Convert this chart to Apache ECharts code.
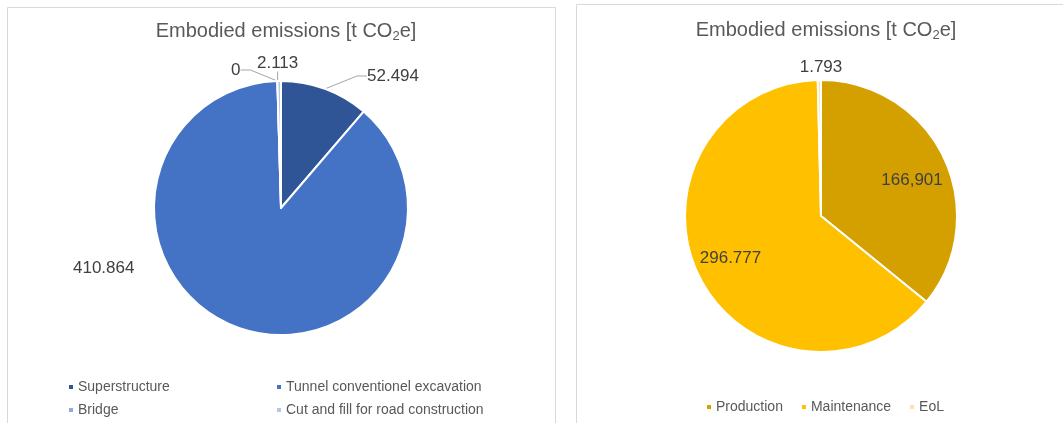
<!DOCTYPE html>
<html>
<head>
<meta charset="utf-8">
<script src="https://cdn.jsdelivr.net/npm/echarts@6/dist/echarts.min.js"></script>
<style>
  html, body { margin: 0; padding: 0; background: #fff; }
  #chart { width: 1063px; height: 423px; }
</style>
</head>
<body>
<div id="chart"></div>
<script>
  // left pie: elements
  const elementNames = ['Superstructure', 'Tunnel conventionel excavation', 'Bridge', 'Cut and fill for road construction'];
  const elementValues = [52.494, 410.864, 0, 2.113];
  const elementLabels = ['52.494', '410.864', '0', '2.113'];
  const elementColors = ['#2f5597', '#4472c4', '#8faadc', '#b4c7e7'];

  // right pie: life-cycle stages
  const stageNames = ['Production', 'Maintenance', 'EoL'];
  const stageValues = [166.901, 296.777, 1.793];
  const stageLabels = ['166,901', '296.777', '1.793'];
  const stageColors = ['#d4a000', '#ffc000', '#ffe3a3'];

  const FONT = '"Liberation Sans", Arial, sans-serif';
  const leftCenter = [281, 208];
  const rightCenter = [821, 216];

  const chart = echarts.init(document.getElementById('chart'));

  const titleText = {
    text: 'Embodied emissions [t CO{sub|2}e]',
    textStyle: {
      fontFamily: FONT, fontSize: 20, fontWeight: 'normal', color: '#595959',
      rich: { sub: { fontFamily: FONT, fontSize: 13, color: '#595959', padding: [10, 0, 0, 0] } }
    }
  };

  // label spots for the left pie (Excel "best fit" placement)
  const leftLabelSpots = [
    { x: 367, y: 76 },
    { x: 73, y: 268 },
    { x: 231, y: 70 },
    { x: 257, y: 63 }
  ];

  // how far the inside labels of the right pie are pushed out from the middle
  const insidePush = [[0.42, 0.18], [0.42, 0.34]];

  const legendText = { fontFamily: FONT, fontSize: 14, color: '#595959', padding: [0, 0, 0, -1] };

  chart.setOption({
    animation: false,
    backgroundColor: '#fff',
    graphic: [
      { type: 'rect', shape: { x: 7.5, y: 7.5, width: 548, height: 430 }, style: { fill: 'none', stroke: '#d9d9d9', lineWidth: 1 } },
      { type: 'rect', shape: { x: 576.5, y: 4.5, width: 500, height: 430 }, style: { fill: 'none', stroke: '#d9d9d9', lineWidth: 1 } }
    ],
    title: [
      Object.assign({ left: 281, top: 15, textAlign: 'center' }, titleText),
      Object.assign({ left: 821, top: 14, textAlign: 'center' }, titleText)
    ],
    legend: [
      {
        orient: 'vertical', left: 62, top: 375, itemGap: 9,
        itemWidth: 6, itemHeight: 6, icon: 'rect',
        textStyle: legendText,
        data: [elementNames[0], elementNames[2]]
      },
      {
        orient: 'vertical', left: 270, top: 375, itemGap: 9,
        itemWidth: 6, itemHeight: 6, icon: 'rect',
        textStyle: legendText,
        data: [elementNames[1], elementNames[3]]
      },
      {
        left: 700, top: 395, itemGap: 17,
        itemWidth: 6, itemHeight: 6, icon: 'rect',
        textStyle: legendText,
        data: stageNames
      }
    ],
    series: [
      {
        name: 'elements',
        type: 'pie',
        center: leftCenter,
        radius: 127,
        startAngle: 90,
        avoidLabelOverlap: false,
        itemStyle: { borderColor: '#fff', borderWidth: 2 },
        label: {
          position: 'outside',
          fontFamily: FONT, fontSize: 17, color: '#404040',
          formatter: (p) => elementLabels[p.dataIndex]
        },
        labelLine: { show: true, length: 10, length2: 10, lineStyle: { color: '#a6a6a6', width: 1 } },
        labelLayout: (p) => {
          const s = leftLabelSpots[p.dataIndex];
          return { x: s.x, y: s.y, align: 'left', verticalAlign: 'middle' };
        },
        data: elementNames.map((n, i) => ({
          name: n,
          value: elementValues[i],
          itemStyle: { color: elementColors[i] },
          labelLine: { show: i !== 1 }
        }))
      },
      {
        name: 'stages',
        type: 'pie',
        center: rightCenter,
        radius: 136,
        startAngle: 90,
        avoidLabelOverlap: false,
        itemStyle: { borderColor: '#fff', borderWidth: 2 },
        label: {
          fontFamily: FONT, fontSize: 17, color: '#404040',
          formatter: (p) => stageLabels[p.dataIndex]
        },
        labelLine: { show: false },
        labelLayout: (p) => {
          if (p.dataIndex === 2) {
            return { x: rightCenter[0], y: 67, align: 'center', verticalAlign: 'middle' };
          }
          const k = insidePush[p.dataIndex];
          const cx = p.labelRect.x + p.labelRect.width / 2;
          const cy = p.labelRect.y + p.labelRect.height / 2;
          return { dx: (cx - rightCenter[0]) * k[0], dy: (cy - rightCenter[1]) * k[1] };
        },
        data: stageNames.map((n, i) => ({
          name: n,
          value: stageValues[i],
          itemStyle: { color: stageColors[i] },
          label: { position: i === 2 ? 'outside' : 'inside' }
        }))
      }
    ]
  });
</script>
</body>
</html>
